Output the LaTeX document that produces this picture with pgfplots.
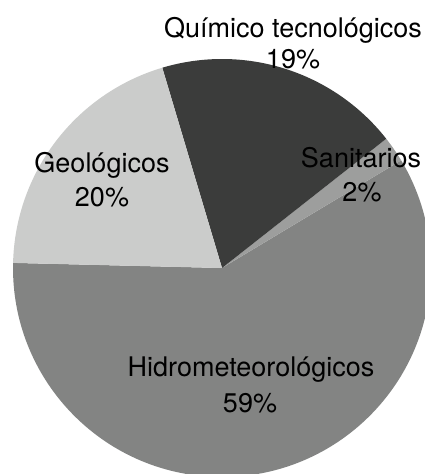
\documentclass[border=0pt]{standalone}
\usepackage{pgfplots}
\usepackage{pgfplotstable}
\pgfplotsset{compat=1.18}
\usepackage{fontspec}
\setmainfont{TeX Gyre Heros}
\definecolor{hid}{RGB}{131,132,131}
\definecolor{san}{RGB}{157,158,157}
\definecolor{qui}{RGB}{59,60,59}
\definecolor{geo}{RGB}{203,204,203}

% percentages, in counter-clockwise order starting at the left edge
\pgfplotstableread{
label pct
Hidrometeorologicos 59
Sanitarios 2
Quimico 19
Geologicos 20
}\piedata

\begin{document}
\begin{tikzpicture}
% cumulative angles from the data
\pgfplotstablegetelem{0}{pct}\of\piedata \let\pA\pgfplotsretval
\pgfplotstablegetelem{1}{pct}\of\piedata \let\pB\pgfplotsretval
\pgfplotstablegetelem{2}{pct}\of\piedata \let\pC\pgfplotsretval
\pgfplotstablegetelem{3}{pct}\of\piedata \let\pD\pgfplotsretval
\pgfmathsetmacro{\aZ}{178.6}
\pgfmathsetmacro{\aA}{\aZ+3.6*\pA}
\pgfmathsetmacro{\aB}{\aA+3.6*\pB}
\pgfmathsetmacro{\aC}{\aB+3.6*\pC}
\pgfmathsetmacro{\aD}{\aC+3.6*\pD}
\begin{axis}[
  scale only axis, width=425pt, height=474pt,
  xmin=0, xmax=425, ymin=0, ymax=474,
  hide axis,
]
\fill[hid] (axis cs:222,206) -- ++(\aZ:209pt) arc[start angle=\aZ, end angle=\aA, radius=209pt] -- cycle;
\fill[san] (axis cs:222,206) -- ++(\aA:209pt) arc[start angle=\aA, end angle=\aB, radius=209pt] -- cycle;
\fill[qui] (axis cs:222,206) -- ++(\aB:209pt) arc[start angle=\aB, end angle=\aC, radius=209pt] -- cycle;
\fill[geo] (axis cs:222,206) -- ++(\aC:209pt) arc[start angle=\aC, end angle=\aD, radius=209pt] -- cycle;
\begin{scope}[every node/.style={font=\fontsize{27}{32}\selectfont, inner sep=0pt}]
\node at (axis cs:293,444) {Químico tecnológicos};
\node at (axis cs:293,415) {19\%};
\node at (axis cs:102,309) {Geológicos};
\node at (axis cs:102,277) {20\%};
\node at (axis cs:361,316) {Sanitarios};
\node at (axis cs:362,282) {2\%};
\node at (axis cs:251,104) {Hidrometeorológicos};
\node at (axis cs:250,71) {59\%};
\end{scope}
\end{axis}
\pgfresetboundingbox
\useasboundingbox (current axis.south west) rectangle (current axis.north east);
\end{tikzpicture}
\end{document}
